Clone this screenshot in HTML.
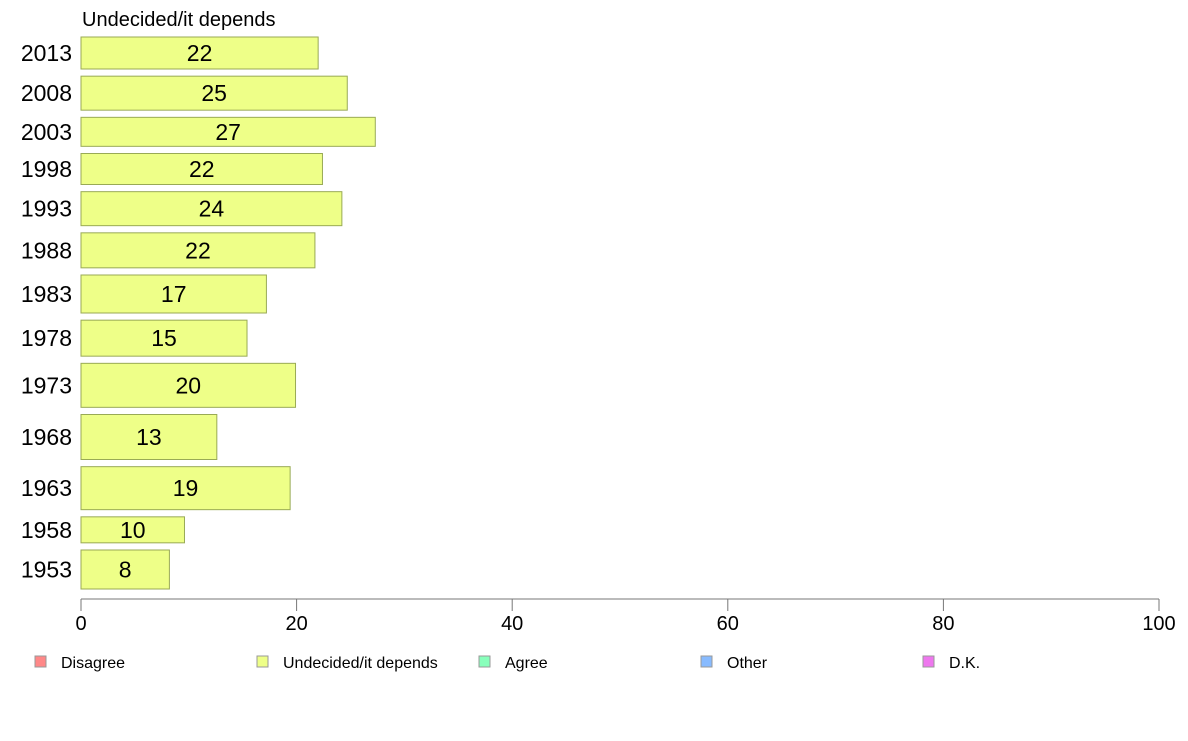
<!DOCTYPE html>
<html><head><meta charset="utf-8"><style>
body{margin:0;background:#fff;font-family:"Liberation Sans",Arial,sans-serif}
svg text{font-family:"Liberation Sans",Arial,sans-serif}
</style></head><body>
<svg id="chart" width="1188" height="736" xmlns="http://www.w3.org/2000/svg">
<text x="82" y="26" font-size="20" fill="#000">Undecided/it depends</text>
<g id="bars"></g>
<g id="axis"></g>
<g id="legend"></g>
</svg>
<script>
const years=["2013","2008","2003","1998","1993","1988","1983","1978","1973","1968","1963","1958","1953"];
const values=[22.0,24.7,27.3,22.4,24.2,21.7,17.2,15.4,19.9,12.6,19.4,9.6,8.2];
const sampleWeights=[32,34,29,31,34,35,38,36,44,45,43,26,39];
const ticks=[0,20,40,60,80,100];
const legendLabels=["Disagree","Undecided/it depends","Agree","Other","D.K."];
const legendColors=["#ff8888","#eeff88","#88ffbb","#88bbff","#ee77ee"];
const NS="http://www.w3.org/2000/svg";
const x0=81,x1=1159,axisY=599;
const xs=v=>x0+(x1-x0)*v/100;
function mk(tag,attrs,parent){const e=document.createElementNS(NS,tag);for(const k in attrs)e.setAttribute(k,attrs[k]);parent.appendChild(e);return e;}
const bars=document.getElementById('bars');
const totalW=sampleWeights.reduce((a,b)=>a+b,0);
const plotTop=37,plotBottom=589,gap=(plotBottom-plotTop-totalW)/(years.length-1);
let yPos=plotTop;
years.forEach((yr,i)=>{
  const h=sampleWeights[i];
  const r=mk('rect',{x:x0,y:yPos,width:xs(values[i])-x0,height:h,fill:'#eeff88',stroke:'#99aa55','stroke-width':1},bars);
  
  
  const t=mk('text',{x:(x0+xs(values[i]))/2,y:yPos+h/2+8,'font-size':23,'text-anchor':'middle',fill:'#000'},bars);
  t.textContent=Math.round(values[i]);
  
  
  const yl=mk('text',{x:72,y:yPos+h/2+8,'font-size':23,'text-anchor':'end',fill:'#000'},bars);
  yl.textContent=yr;
  
  
  yPos+=h+gap;
});
const ax=document.getElementById('axis');
const line=mk('line',{x1:x0,x2:x1,y1:axisY,y2:axisY,stroke:'#777','stroke-width':1},ax);


ticks.forEach(v=>{
  const tk=mk('line',{x1:xs(v),x2:xs(v),y1:axisY,y2:axisY+12,stroke:'#777'},ax);
  
  
  const tl=mk('text',{x:xs(v),y:630,'font-size':20,'text-anchor':'middle',fill:'#000'},ax);
  tl.textContent=v;
  
  
});
const lg=document.getElementById('legend');
legendLabels.forEach((l,i)=>{
  const lx=35+i*222;
  const sq=mk('rect',{x:lx,y:656,width:11,height:11,fill:legendColors[i],stroke:'#999'},lg);
  
  
  const t=mk('text',{x:lx+26,y:668,'font-size':16,fill:'#000'},lg);
  t.textContent=l;
  
  
});
</script>
</body></html>
